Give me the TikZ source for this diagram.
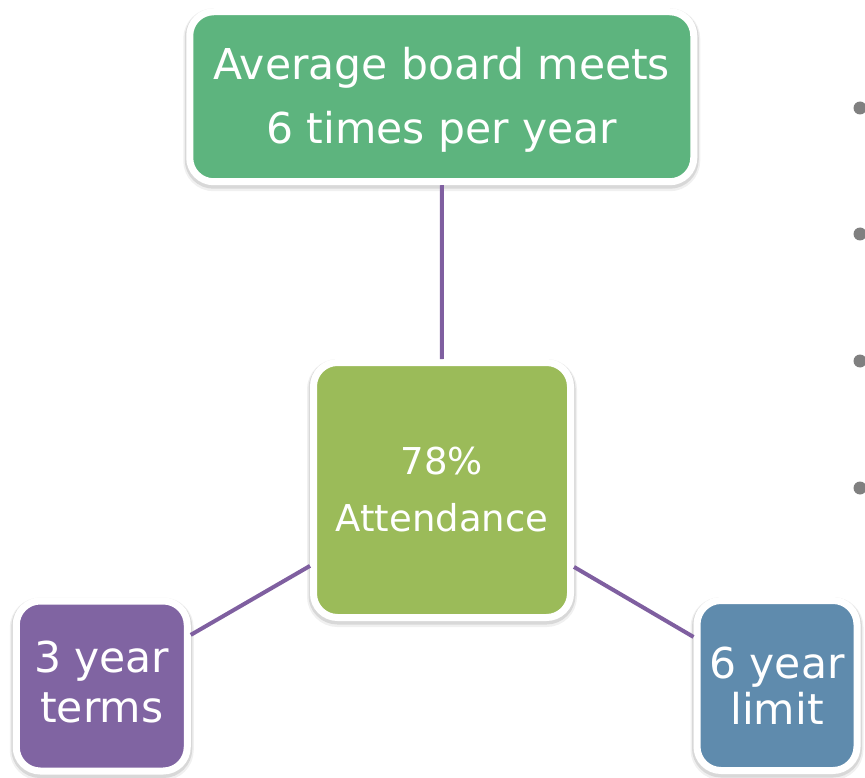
\documentclass[tikz,border=0pt]{standalone}
\usepackage{fontspec}
\setmainfont{DejaVu Sans}
\definecolor{topgreen}{HTML}{5DB47E}
\definecolor{midgreen}{HTML}{9BBB59}
\definecolor{boxpurple}{HTML}{8064A2}
\definecolor{boxblue}{HTML}{5F8BAD}
\definecolor{linkpurple}{HTML}{7F5FA0}
\definecolor{bulletgray}{HTML}{808080}
\newcommand{\shiftline}[2]{\raisebox{#1}[\height][\depth]{#2}}
\tikzset{
  card/.style={draw=white, line width=7pt, rounded corners=24pt, text=white, align=center,
    inner sep=0pt, outer sep=3.5pt,
    preaction={draw=black, draw opacity=0.06, line width=13pt, transform canvas={yshift=-3pt}},
    preaction={draw=black, draw opacity=0.10, line width=10pt, transform canvas={yshift=-2pt}}},
  link/.style={draw=linkpurple, line width=4pt},
  bulletdot/.style={circle, fill=bulletgray, minimum size=13pt, inner sep=0pt}
}
\begin{document}
\begin{tikzpicture}[x=1pt,y=-1pt]
\useasboundingbox (0,0) rectangle (865,778);
\node[card, fill=topgreen, minimum width=504pt, minimum height=170pt,
  font=\fontsize{42.5}{64}\selectfont] (top) at (441.75,96.75)
  {\shiftline{-3pt}{Average board meets}\\\shiftline{-3pt}{6 times per year}};
\node[card, fill=midgreen, minimum width=257pt, minimum height=255pt,
  font=\fontsize{37}{57}\selectfont] (mid) at (442,490) {78\%\\Attendance};
\node[card, fill=boxpurple, minimum width=171pt, minimum height=170pt,
  font=\fontsize{42.5}{50}\selectfont] (left) at (101.75,686)
  {\shiftline{4pt}{3 year}\\\shiftline{4pt}{terms}};
\node[card, fill=boxblue, minimum width=160pt, minimum height=170pt,
  font=\fontsize{42.5}{46}\selectfont] (right) at (777,685.5) {6 year\\limit};
\draw[link] (top) -- (mid);
\draw[link] (mid) -- (left);
\draw[link] (mid) -- (right);
\node[bulletdot] (b1) at (860,108) {};
\node[bulletdot] (b2) at (860,234) {};
\node[bulletdot] (b3) at (860,361) {};
\node[bulletdot] (b4) at (860,488) {};
\end{tikzpicture}
\end{document}
